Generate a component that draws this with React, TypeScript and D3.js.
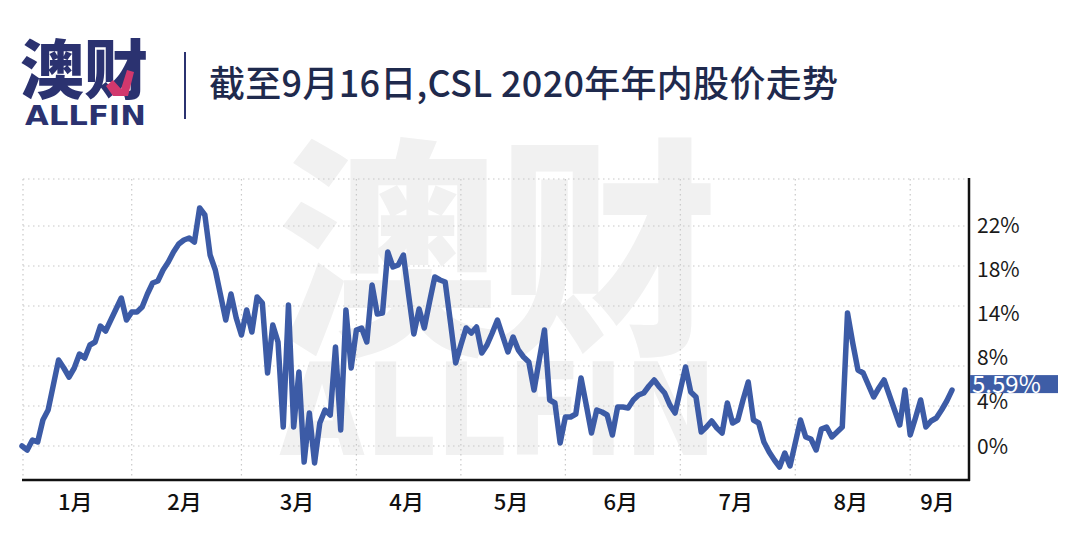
import React, { useEffect, useRef } from "react";
import * as d3 from "d3";

// CSL 2020 year-to-date return (%), one value per trading day, by month
const jan = [0.0, -0.4, 0.6, 0.4, 2.6, 3.6, 6.1, 8.6, 7.8, 6.9, 7.8, 9.2, 8.8, 10.1, 10.4, 12.0, 11.5, 12.6, 13.7, 14.8, 12.6];
const feb = [13.4, 13.4, 13.9, 15.2, 16.3, 16.5, 17.6, 18.4, 19.4, 20.2, 20.6, 20.8, 20.4, 23.8, 23.1, 19.1, 17.6, 15.1, 12.6, 15.2, 12.8];
const mar = [11.1, 13.6, 11.4, 14.9, 14.3, 7.3, 12.1, 10.4, 1.9, 14.1, 1.9, 7.4, -1.6, 3.3, -1.7, 2.3, 3.6, 3.1, 9.9, 1.6, 13.6, 7.8];
const apr = [11.6, 11.8, 10.4, 16.1, 13.2, 13.3, 19.4, 17.9, 18.1, 19.1, 15.1, 11.2, 13.7, 11.8, 14.4, 16.9, 16.6, 16.4, 12.4, 8.3];
const may = [10.1, 11.8, 11.3, 11.9, 9.3, 10.1, 11.3, 12.6, 11.0, 9.4, 10.9, 9.6, 8.9, 8.4, 5.6, 8.6, 11.6, 4.6, 4.3, 0.3];
const jun = [2.9, 2.9, 3.2, 6.8, 4.1, 1.3, 3.6, 3.4, 3.1, 1.1, 3.9, 3.9, 3.8, 4.6, 5.1, 5.3, 6.0, 6.6, 5.9, 5.3, 4.1, 3.3];
const jul = [5.6, 7.9, 5.4, 4.9, 1.4, 1.9, 2.5, 1.8, 1.3, 4.3, 2.3, 2.6, 4.6, 6.4, 2.6, 2.3, 0.4, -0.6, -1.4, -2.1, -0.7, -2.0];
const aug = [0.3, 2.6, 0.9, 0.7, -0.4, 1.7, 1.9, 0.9, 1.4, 1.9, 13.3, 10.3, 7.6, 7.3, 6.1, 4.9, 5.8, 6.6, 5.1, 3.6, 2.1, 5.6];
const sep = [1.1, 2.8, 4.6, 1.9, 2.5, 2.8, 3.6, 4.5, 5.59];

const monthLabels = ["1月", "2月", "3月", "4月", "5月", "6月", "7月", "8月", "9月"];
const monthSeries = [jan, feb, mar, apr, may, jun, jul, aug, sep];

const gridValues = [0, 4, 8, 14, 18, 22, 26.7];
const tickLabels = ["22%", "18%", "14%", "8%", "4%", "0%"];

const title = "截至9月16日,CSL 2020年年内股价走势";
const lastLabel = "5.59%";

const CJK = "'Noto Sans CJK SC', 'Noto Sans', sans-serif";

const App = () => {
  const svgRef = useRef<SVGSVGElement>(null);

  useEffect(() => {
    const width = 1067;
    const height = 551;
    const values = monthSeries.flat();
    const starts: number[] = [];
    let acc = 0;
    monthSeries.forEach((m) => {
      starts.push(acc);
      acc += m.length;
    });

    const svg = d3.select(svgRef.current);
    svg.selectAll("*").remove();
    svg.attr("width", width).attr("height", height);

    svg.append("rect").attr("width", width).attr("height", height).attr("fill", "#fff");

    const x = d3.scaleLinear().domain([0, values.length - 1]).range([22, 952]);
    const y = d3.scaleLinear().domain([0, 26.7]).range([446, 179]);
    const plotLeft = 23;
    const plotRight = 969;
    const plotBottom = 480;

    // watermark
    const wm = svg.append("g").attr("fill", "#f1f1f1");
    wm.append("text")
      .attr("x", 498)
      .attr("y", 336)
      .attr("text-anchor", "middle")
      .attr("font-family", CJK)
      .attr("font-weight", 900)
      .attr("font-size", 232)
      .attr("textLength", 440)
      .attr("lengthAdjust", "spacingAndGlyphs")
      .text("澳财");
    wm.append("text")
      .attr("x", 498)
      .attr("y", 455)
      .attr("text-anchor", "middle")
      .attr("font-size", 128)
      .attr("font-family", "'DejaVu Sans', sans-serif")
      .attr("font-weight", "bold")
      .attr("textLength", 438)
      .attr("lengthAdjust", "spacingAndGlyphs")
      .text("ALLFIN");

    // grid
    const grid = svg.append("g").attr("stroke", "#c8c8c8").attr("stroke-width", 1.2).attr("stroke-dasharray", "1.5 3.5");
    gridValues.forEach((v) => {
      grid.append("line").attr("x1", plotLeft).attr("x2", plotRight).attr("y1", y(v)).attr("y2", y(v));
    });
    starts.forEach((s) => {
      const gx = s === 0 ? plotLeft : x(s);
      grid.append("line").attr("x1", gx).attr("x2", gx).attr("y1", y(26.7)).attr("y2", plotBottom);
    });

    // axes
    svg.append("line")
      .attr("x1", plotLeft - 1).attr("x2", plotRight + 1)
      .attr("y1", plotBottom).attr("y2", plotBottom)
      .attr("stroke", "#111").attr("stroke-width", 2.5);
    svg.append("line")
      .attr("x1", plotRight).attr("x2", plotRight)
      .attr("y1", y(26.7) - 1).attr("y2", plotBottom + 1)
      .attr("stroke", "#111").attr("stroke-width", 2.5);

    // line
    const line = d3.line<number>().x((_, i) => x(i)).y((d) => y(d)).curve(d3.curveLinear);
    svg.append("path")
      .datum(values)
      .attr("d", line)
      .attr("fill", "none")
      .attr("stroke", "#3c5ba6")
      .attr("stroke-width", 5.5)
      .attr("stroke-linejoin", "round")
      .attr("stroke-linecap", "round");

    // right tick labels
    const ly = d3.scalePoint<string>().domain(tickLabels).range([225, 446]);
    svg.append("g")
      .selectAll("text")
      .data(tickLabels)
      .enter()
      .append("text")
      .attr("x", 977)
      .attr("y", (d) => ly(d)!)
      .attr("dy", "0.36em")
      .attr("font-family", CJK)
      .attr("font-size", 21)
      .attr("fill", "#1a1a1a")
      .text((d) => d);

    // last value badge
    const lastY = y(values[values.length - 1]) - 6;
    svg.append("rect")
      .attr("x", 970).attr("y", lastY - 9)
      .attr("width", 88).attr("height", 18)
      .attr("fill", "#3e5da6");
    svg.append("text")
      .attr("x", 972).attr("y", lastY)
      .attr("dy", "0.36em")
      .attr("font-family", CJK)
      .attr("font-size", 24)
      .attr("fill", "#fff")
      .text(lastLabel);

    // month labels
    const ends = starts.slice(1).map((s) => x(s)).concat([plotRight]);
    svg.append("g")
      .selectAll("text")
      .data(monthLabels)
      .enter()
      .append("text")
      .attr("x", (_, i) => ((i === 0 ? plotLeft : x(starts[i])) + ends[i]) / 2 - 2)
      .attr("y", 502)
      .attr("dy", "0.36em")
      .attr("text-anchor", "middle")
      .attr("font-family", CJK)
      .attr("font-weight", 500)
      .attr("font-size", 22)
      .attr("fill", "#111")
      .text((d) => d);

    // header: logo, divider, title
    const navy = "#2b3270";
    svg.append("text")
      .attr("x", 20).attr("y", 93)
      .attr("font-family", CJK)
      .attr("font-weight", 900)
      .attr("font-size", 64)
      .attr("fill", navy)
      .text("澳财");
    svg.append("path")
      .attr("d", "M106,86 L113,96 L128,96 L134,72 L127,70 L121,89 L113,80 Z")
      .attr("fill", "#d2386d");
    svg.append("text")
      .attr("x", 25).attr("y", 125)
      .attr("font-family", "'DejaVu Sans', sans-serif")
      .attr("font-weight", "bold")
      .attr("font-size", 27)
      .attr("textLength", 121)
      .attr("lengthAdjust", "spacingAndGlyphs")
      .attr("fill", navy)
      .text("ALLFIN");
    svg.append("line")
      .attr("x1", 185).attr("x2", 185)
      .attr("y1", 52).attr("y2", 119)
      .attr("stroke", navy).attr("stroke-width", 2);
    svg.append("text")
      .attr("x", 209).attr("y", 97)
      .attr("font-family", CJK)
      .attr("font-weight", 500)
      .attr("font-size", 36)
      .attr("textLength", 629)
      .attr("lengthAdjust", "spacing")
      .attr("fill", "#1f2a4d")
      .text(title);
  }, []);

  return <svg ref={svgRef} style={{ position: "absolute", left: 0, top: 0 }}></svg>;
};

export default App;
